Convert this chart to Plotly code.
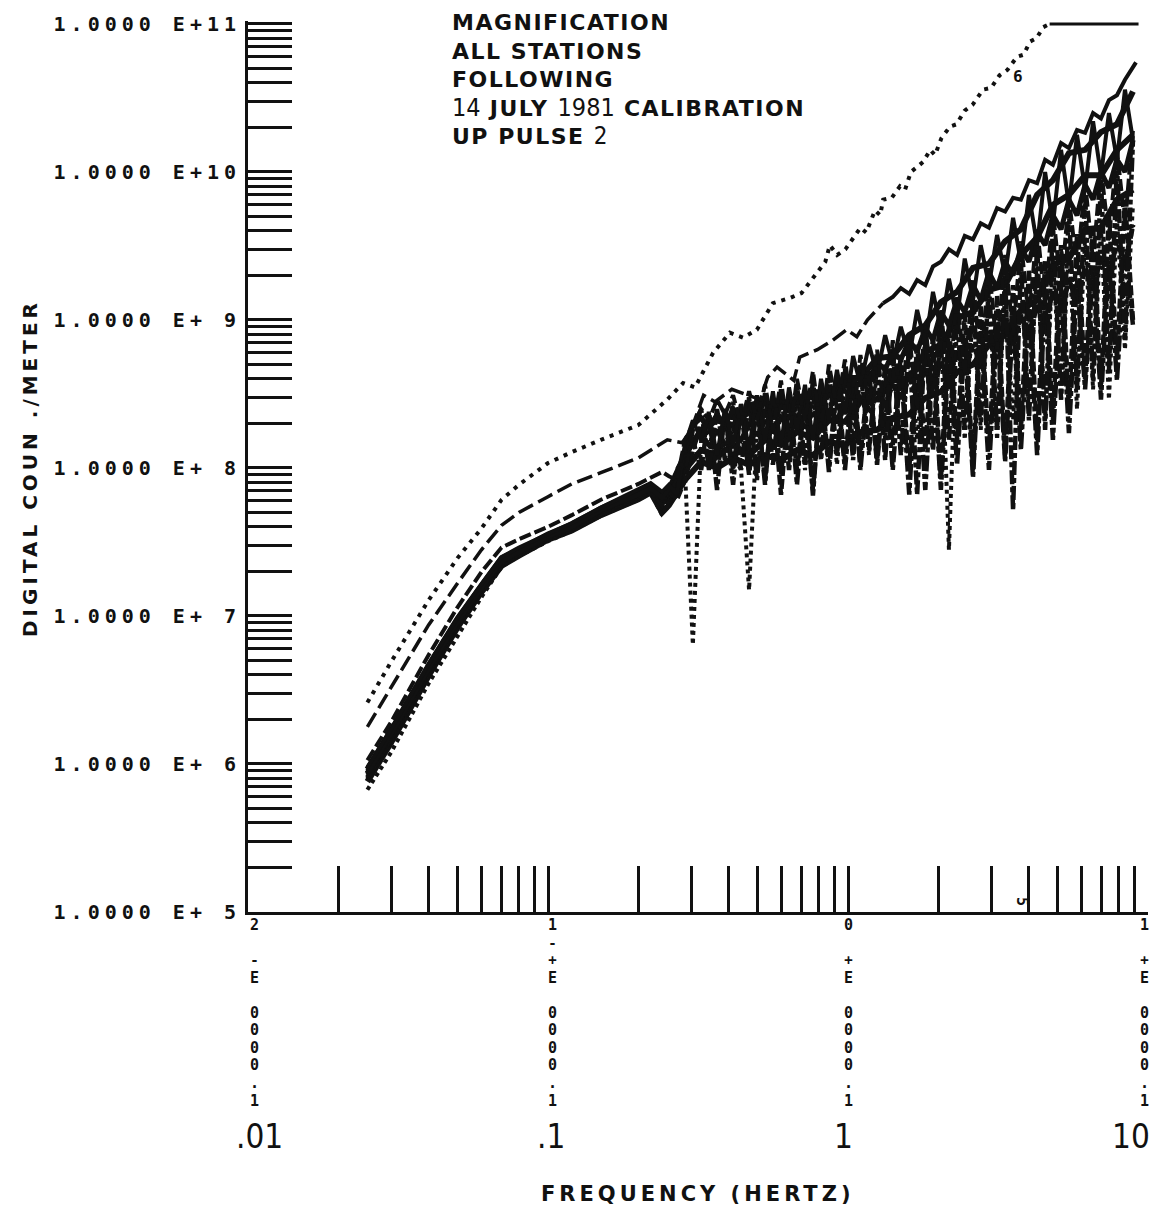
import math
import plotly.graph_objects as go

# ---------------------------------------------------------------------------
# Frequency grids (Hz)
# ---------------------------------------------------------------------------
freq_lo = [0.025, 0.03, 0.04, 0.05, 0.06, 0.07, 0.08, 0.10, 0.12, 0.15, 0.20, 0.22, 0.24]
freq_hi = [0.253, 0.269, 0.286, 0.304, 0.324, 0.344, 0.366, 0.389, 0.414, 0.440,
           0.468, 0.497, 0.529, 0.562, 0.598, 0.636, 0.676, 0.719, 0.764, 0.813,
           0.864, 0.919, 0.977, 1.04, 1.10, 1.175, 1.25, 1.33, 1.41, 1.50,
           1.60, 1.70, 1.81, 1.92, 2.04, 2.17, 2.31, 2.45, 2.61, 2.77,
           2.95, 3.14, 3.34, 3.55, 3.77, 4.01, 4.27, 4.54, 4.82, 5.13,
           5.45, 5.80, 6.17, 6.56, 6.97, 7.41, 7.88, 8.38, 8.91]
freq_mid = freq_hi[::2]   # coarser sampling for the smoother stations

# ---------------------------------------------------------------------------
# Magnification (digital counts / meter)
# ---------------------------------------------------------------------------
# Station 6 (dotted, highest) and its saturated tail at 1e11
st6_freq = [0.025, 0.03, 0.04, 0.05, 0.06, 0.07, 0.08, 0.10, 0.12, 0.15,
            0.20, 0.25, 0.282, 0.309, 0.355, 0.404, 0.447, 0.497, 0.562, 0.641,
            0.70, 0.80, 0.84, 0.87, 0.92, 0.98, 1.03, 1.10, 1.15, 1.23,
            1.28, 1.31, 1.40, 1.49, 1.55, 1.62, 1.70, 1.78, 1.88, 1.95,
            2.05, 2.19, 2.30, 2.45, 2.60, 2.82, 3.00, 3.20, 3.40, 3.66,
            3.85, 4.04, 4.25, 4.47, 4.70]
st6_mag = [2.6e6, 4.9e6, 1.28e7, 2.47e7, 3.9e7, 6.1e7, 7.7e7, 1.08e8, 1.28e8, 1.55e8,
           1.95e8, 2.9e8, 3.75e8, 3.5e8, 6.0e8, 8.2e8, 7.6e8, 8.6e8, 1.30e9, 1.41e9,
           1.52e9, 2.2e9, 2.47e9, 3.2e9, 2.75e9, 3.0e9, 3.5e9, 4.2e9, 3.9e9, 5.5e9,
           5.1e9, 6.5e9, 6.7e9, 8.0e9, 7.6e9, 1.0e10, 1.08e10, 1.17e10, 1.41e10, 1.30e10,
           1.70e10, 2.03e10, 2.1e10, 2.6e10, 2.84e10, 3.6e10, 3.7e10, 4.5e10, 4.9e10, 6.0e10,
           6.2e10, 7.6e10, 8.0e10, 9.5e10, 1.0e11]
st6_sat_freq = [4.70, 9.3]
st6_sat_mag = [1.0e11, 1.0e11]

# Long-dashed station (second highest): dashed part, then its dense solid part
ld_freq = [0.025, 0.03, 0.04, 0.05, 0.06, 0.07, 0.08, 0.10, 0.12, 0.15,
           0.20, 0.25, 0.28, 0.30, 0.33, 0.36, 0.41, 0.51, 0.54, 0.58,
           0.66, 0.69, 0.79, 0.89, 0.99, 1.07, 1.16, 1.31]
ld_mag = [1.78e6, 3.3e6, 8.7e6, 1.67e7, 2.8e7, 4.1e7, 5.0e7, 6.4e7, 7.8e7, 9.3e7,
          1.17e8, 1.55e8, 1.48e8, 1.81e8, 3.1e8, 2.8e8, 3.4e8, 2.9e8, 4.1e8, 4.8e8,
          3.9e8, 5.6e8, 6.3e8, 7.3e8, 8.6e8, 7.7e8, 1.0e9, 1.3e9]
ld_hi_freq = [1.31, 1.41, 1.50, 1.60, 1.70, 1.81, 1.92, 2.04, 2.17, 2.31,
              2.45, 2.61, 2.77, 2.95, 3.14, 3.34, 3.55, 3.77, 4.01, 4.27,
              4.54, 4.82, 5.13, 5.45, 5.80, 6.17, 6.56, 6.97, 7.41, 7.88,
              8.38, 8.77, 9.12]
ld_hi_mag = [1.3e9, 1.43e9, 1.64e9, 1.5e9, 1.86e9, 1.72e9, 2.3e9, 2.47e9, 3.0e9, 2.75e9,
             3.7e9, 3.5e9, 4.5e9, 4.2e9, 5.7e9, 5.4e9, 6.7e9, 6.5e9, 8.8e9, 8.4e9,
             1.21e10, 1.12e10, 1.57e10, 1.45e10, 1.92e10, 1.84e10, 2.5e10, 2.3e10, 3.06e10, 3.3e10,
             4.2e10, 4.9e10, 5.5e10]

# Dashed station riding just above the main bundle
dsh_lo = [1.06e6, 1.92e6, 5.45e6, 1.15e7, 1.98e7, 2.9e7, 3.3e7, 4.0e7, 4.8e7, 6.1e7, 7.8e7, 8.6e7, 9.4e7]
dsh_hi = [8.8e7, 8.3e7, 1.55e8, 1.95e8, 2.5e8, 2.1e8, 2.9e8, 2.3e8, 3.1e8, 1.95e8,
          3.3e8, 2.1e8, 3.65e8, 1.81e8, 3.9e8, 1.55e8, 4.0e8, 2.1e8, 4.5e8, 1.81e8,
          5.0e8, 2.5e8, 5.4e8, 2.1e8, 5.8e8, 2.7e8, 6.3e8, 2.1e8, 7.3e8, 2.9e8,
          7.9e8, 2.5e8, 9.2e8, 3.1e8, 1.17e9, 3.4e8, 1.47e9, 4.3e8, 1.86e9, 5.0e8,
          2.25e9, 6.3e8, 2.75e9, 7.9e8, 3.4e9, 1.0e9, 4.2e9, 1.26e9, 5.4e9, 1.6e9,
          6.7e9, 2.2e9, 8.5e9, 2.5e9, 1.07e10, 3.5e9, 1.41e10, 4.4e9, 1.92e10]

# Main bundle of stations
sta_a_lo = [9.5e5, 1.72e6, 4.74e6, 9.8e6, 1.64e7, 2.5e7, 2.9e7, 3.6e7, 4.25e7, 5.4e7, 7.1e7, 7.9e7, 6.9e7]
sta_a_hi = [7.7e7, 6.6e7, 1.43e8, 2.1e8, 1.55e8, 2.3e8, 1.22e8, 2.5e8, 1.43e8, 2.7e8,
            1.32e8, 3.1e8, 1.55e8, 3.3e8, 1.43e8, 3.5e8, 1.81e8, 3.65e8, 1.55e8, 4.0e8,
            2.1e8, 4.6e8, 2.3e8, 5.7e8, 3.65e8, 6.8e8, 4.3e8, 7.9e8, 5.0e8, 9.0e8,
            5.6e8, 1.17e9, 6.8e8, 1.55e9, 8.6e8, 1.9e9, 1.03e9, 2.6e9, 1.36e9, 3.2e9,
            1.72e9, 3.75e9, 2.0e9, 4.9e9, 2.47e9, 7.0e9, 3.2e9, 1.0e10, 4.4e9, 1.41e10,
            6.0e9, 1.78e10, 7.6e9, 2.2e10, 9.5e9, 2.5e10, 1.21e10, 3.6e10, 1.64e10]

sta_b_lo = [9.0e5, 1.62e6, 4.5e6, 9.4e6, 1.6e7, 2.4e7, 2.75e7, 3.5e7, 4.05e7, 5.1e7, 6.7e7, 7.45e7, 6.1e7]
sta_b_hi = [6.6e7, 8.3e7, 9.7e7, 1.81e8, 2.5e8, 9.7e7, 2.5e8, 1.13e8, 2.8e8, 9.7e7,
            3.0e8, 8.3e7, 3.2e8, 1.05e8, 3.4e8, 9.7e7, 3.65e8, 1.05e8, 3.9e8, 1.13e8,
            4.5e8, 1.22e8, 4.75e8, 1.13e8, 5.0e8, 1.32e8, 5.6e8, 1.13e8, 6.3e8, 1.22e8,
            6.8e8, 6.6e7, 7.9e8, 1.32e8, 1.0e9, 1.55e8, 1.26e9, 1.81e8, 1.47e9, 2.1e8,
            1.72e9, 1.81e8, 2.0e9, 5.2e7, 2.45e9, 2.1e8, 3.2e9, 1.81e8, 4.4e9, 2.9e8,
            5.5e9, 3.4e8, 7.0e9, 3.9e8, 8.8e9, 4.6e8, 1.12e10, 7.3e8, 1.64e10]

sta_c_lo = [8.4e5, 1.55e6, 4.3e6, 9.0e6, 1.52e7, 2.3e7, 2.67e7, 3.37e7, 3.9e7, 5.0e7, 6.4e7, 7.1e7, 5.6e7]
sta_c_hi = [7.1e7, 6.1e7, 8.3e7, 1.32e8, 1.95e8, 2.1e8, 9.0e7, 2.3e8, 9.7e7, 2.5e8,
            9.0e7, 2.7e8, 8.3e7, 2.9e8, 6.6e7, 3.0e8, 9.7e7, 3.1e8, 7.1e7, 3.4e8,
            1.05e8, 3.65e8, 1.13e8, 4.0e8, 1.22e8, 4.5e8, 1.05e8, 5.0e8, 1.43e8, 5.8e8,
            9.7e7, 6.8e8, 1.32e8, 7.9e8, 8.3e7, 9.2e8, 1.55e8, 1.08e9, 9.7e7, 1.26e9,
            1.32e8, 1.47e9, 1.22e8, 1.72e9, 1.81e8, 2.2e9, 1.55e8, 2.5e9, 2.1e8, 3.2e9,
            2.5e8, 3.8e9, 3.9e8, 4.4e9, 3.4e8, 5.1e9, 5.4e8, 6.5e9, 1.0e9]

sta_d_lo = [6.7e5, 1.2e6, 3.5e6, 7.4e6, 1.34e7, 2.15e7, 2.54e7, 3.2e7, 3.75e7, 4.75e7, 6.1e7, 6.8e7, 4.8e7]
sta_d_hi = [6.1e7, 7.1e7, 9.7e7, 6.4e6, 1.55e8, 1.81e8, 1.13e8, 2.1e8, 1.22e8, 9.7e7,
            1.5e7, 1.81e8, 2.5e8, 1.22e8, 2.7e8, 1.13e8, 2.9e8, 9.7e7, 3.1e8, 1.32e8,
            3.65e8, 1.05e8, 4.0e8, 1.55e8, 4.5e8, 1.22e8, 4.75e8, 1.55e8, 5.4e8, 1.43e8,
            6.3e8, 1.55e8, 7.3e8, 1.32e8, 8.6e8, 2.8e7, 1.03e9, 1.55e8, 1.17e9, 1.81e8,
            1.36e9, 1.55e8, 1.6e9, 2.1e8, 1.86e9, 2.5e8, 2.25e9, 2.1e8, 2.6e9, 2.9e8,
            3.1e9, 2.5e8, 3.6e9, 3.4e8, 4.2e9, 2.9e8, 4.85e9, 6.3e8, 6.0e9]

sta_e_lo = [7.9e5, 1.45e6, 4.06e6, 8.6e6, 1.48e7, 2.2e7, 2.6e7, 3.3e7, 3.8e7, 4.8e7, 6.2e7, 6.9e7, 5.2e7]
sta_e_hi = [5.6e7, 9.7e7, 1.22e8, 1.55e8, 9.7e7, 2.4e8, 7.1e7, 2.5e8, 7.7e7, 2.7e8,
            9.7e7, 2.9e8, 7.7e7, 3.0e8, 9.0e7, 3.1e8, 7.7e7, 3.3e8, 6.5e7, 3.5e8,
            9.4e7, 3.8e8, 9.7e7, 4.0e8, 9.7e7, 4.3e8, 1.13e8, 4.6e8, 9.7e7, 5.0e8,
            6.6e7, 5.4e8, 7.1e7, 5.8e8, 7.1e7, 6.5e8, 1.05e8, 7.3e8, 8.6e7, 8.4e8,
            9.7e7, 9.2e8, 1.1e8, 1.03e9, 1.32e8, 1.17e9, 1.22e8, 1.36e9, 1.55e8, 1.6e9,
            1.72e8, 1.86e9, 3.4e8, 2.2e9, 2.9e8, 2.5e9, 3.9e8, 3.0e9, 9.2e8]

sta_g_lo = [8.7e5, 1.6e6, 4.4e6, 9.2e6, 1.55e7, 2.35e7, 2.7e7, 3.45e7, 4.0e7, 5.2e7, 6.6e7, 7.3e7, 6.3e7]
sta_g_hi = [7.3e7, 6.9e7, 1.32e8, 1.95e8, 2.18e8, 1.86e8, 2.3e8, 1.95e8, 2.5e8, 2.1e8,
            2.7e8, 2.18e8, 2.9e8, 2.4e8, 2.97e8, 2.54e8, 3.1e8, 2.7e8, 3.27e8, 2.9e8,
            3.47e8, 3.06e8, 3.8e8, 3.65e8, 4.45e8, 3.9e8, 5.2e8, 4.6e8, 6.1e8, 5.4e8,
            7.3e8, 6.1e8, 8.8e8, 7.3e8, 1.13e9, 9.2e8, 1.36e9, 1.13e9, 1.72e9, 1.36e9,
            2.1e9, 1.64e9, 2.47e9, 2.0e9, 3.06e9, 2.47e9, 3.9e9, 3.2e9, 5.1e9, 4.1e9,
            6.5e9, 5.1e9, 8.2e9, 6.5e9, 1.0e10, 7.8e9, 1.21e10, 1.0e10, 1.64e10]

sta_h_lo = [8.1e5, 1.5e6, 4.2e6, 8.8e6, 1.5e7, 2.25e7, 2.62e7, 3.35e7, 3.85e7, 4.9e7, 6.3e7, 7.0e7, 5.4e7]
sta_h_hi = [6.6e7, 7.7e7, 1.13e8, 1.55e8, 1.67e8, 1.43e8, 1.81e8, 1.43e8, 1.86e8, 1.55e8,
            1.95e8, 1.6e8, 2.1e8, 1.67e8, 2.18e8, 1.81e8, 2.3e8, 1.86e8, 2.4e8, 1.95e8,
            2.54e8, 2.1e8, 2.8e8, 2.3e8, 2.97e8, 2.5e8, 3.27e8, 2.7e8, 3.65e8, 2.97e8,
            4.05e8, 3.27e8, 4.6e8, 3.65e8, 5.2e8, 4.05e8, 6.1e8, 4.6e8, 6.8e8, 5.2e8,
            7.9e8, 6.1e8, 9.2e8, 6.8e8, 1.08e9, 7.9e8, 1.26e9, 9.2e8, 1.55e9, 1.13e9,
            1.86e9, 1.36e9, 2.25e9, 1.6e9, 2.75e9, 1.86e9, 3.5e9, 2.35e9, 4.4e9]

# Smoother stations inside the band (sampled on freq_mid)
sta_j_lo = [9.2e5, 1.68e6, 4.6e6, 9.6e6, 1.6e7, 2.45e7, 2.8e7, 3.55e7, 4.15e7, 5.3e7, 6.9e7, 7.6e7, 6.6e7]
sta_j_mid = [7.1e7, 1.22e8, 1.81e8, 2.1e8, 1.95e8, 2.4e8, 2.3e8, 2.8e8, 2.7e8, 3.27e8,
             3.2e8, 4.05e8, 4.05e8, 5.5e8, 5.7e8, 7.9e8, 9.2e8, 1.32e9, 1.55e9, 2.25e9,
             2.4e9, 3.4e9, 4.1e9, 7.0e9, 8.8e9, 1.34e10, 1.41e10, 1.86e10, 2.1e10, 3.5e10]

sta_k_lo = [8.6e5, 1.58e6, 4.35e6, 9.1e6, 1.54e7, 2.32e7, 2.7e7, 3.4e7, 3.95e7, 5.05e7, 6.5e7, 7.2e7, 5.9e7]
sta_k_mid = [6.1e7, 9.7e7, 1.32e8, 1.22e8, 1.43e8, 1.22e8, 1.55e8, 1.43e8, 1.75e8, 1.6e8,
             2.1e8, 2.05e8, 2.8e8, 2.9e8, 3.9e8, 4.05e8, 6.1e8, 6.8e8, 1.03e9, 1.13e9,
             1.6e9, 1.72e9, 2.75e9, 3.6e9, 6.0e9, 7.0e9, 9.5e9, 9.5e9, 1.41e10, 1.78e10]

sta_l_lo = [7.6e5, 1.4e6, 3.95e6, 8.4e6, 1.45e7, 2.18e7, 2.56e7, 3.28e7, 3.78e7, 4.8e7, 6.15e7, 6.85e7, 5.0e7]
sta_l_mid = [5.6e7, 8.3e7, 1.1e8, 1.0e8, 1.17e8, 1.05e8, 1.22e8, 1.13e8, 1.32e8, 1.22e8,
             1.5e8, 1.43e8, 1.75e8, 1.81e8, 2.18e8, 2.3e8, 2.97e8, 3.27e8, 4.45e8, 5.0e8,
             6.8e8, 7.9e8, 1.17e9, 1.36e9, 2.35e9, 2.6e9, 4.1e9, 4.2e9, 6.5e9, 7.6e9]

# Axis annotation text
x_decade_text = [".01", ".1", "1", "10"]
x_exponent_glyphs = [["2", "", "-", "E"], ["1", "-", "+", "E"], ["0", "", "+", "E"], ["1", "", "+", "E"]]
x_mantissa_glyphs = ["", "0", "0", "0", "0", ".", "1"]
title_lines = ["MAGNIFICATION", "ALL STATIONS", "FOLLOWING", "14 JULY 1981 CALIBRATION", "UP PULSE 2"]

# ---------------------------------------------------------------------------
# Page geometry (pixels)
# ---------------------------------------------------------------------------
PAGE_W, PAGE_H = 1150, 1209
LEFT, RIGHT, TOP, BOTTOM = 248, 1148, 21, 912
PW, PH = RIGHT - LEFT, BOTTOM - TOP

MONO = "DejaVu Sans Mono"
SANS = "DejaVu Sans"
NARROW = "Liberation Sans Narrow, DejaVu Sans Condensed, Liberation Sans"
INK = "#111111"


def spaced(text, px):
    return f"<span style='letter-spacing:{px}px'>{text}</span>"


def sized(text, px, family=None, weight=None):
    style = f"font-size:{px}px"
    if family:
        style += f";font-family:{family}"
    if weight:
        style += f";font-weight:{weight}"
    return f"<span style='{style}'>{text}</span>"


def px_x(p):
    return (p - LEFT) / PW


def px_y(p):
    return (BOTTOM - p) / PH


fig = go.Figure()


def add_line(xs, ys, width, dash):
    fig.add_trace(go.Scatter(x=xs, y=ys, mode="lines",
                             line=dict(color=INK, width=width, dash=dash),
                             hoverinfo="skip", showlegend=False))


# bundle stations (drawn first, upper curves on top)
add_line(freq_lo + freq_mid, sta_l_lo + sta_l_mid, 6, "solid")
add_line(freq_lo + freq_mid, sta_k_lo + sta_k_mid, 6, "solid")
add_line(freq_lo + freq_mid, sta_j_lo + sta_j_mid, 6, "solid")
add_line(freq_lo + freq_hi, sta_e_lo + sta_e_hi, 4.5, "16px,3px,5px,3px")
add_line(freq_lo + freq_hi, sta_h_lo + sta_h_hi, 5, "10px,2px")
add_line(freq_lo + freq_hi, sta_d_lo + sta_d_hi, 4, "4px,4px")
add_line(freq_lo + freq_hi, sta_c_lo + sta_c_hi, 4.5, "10px,3px")
add_line(freq_lo + freq_hi, sta_b_lo + sta_b_hi, 4.5, "14px,3px,5px,3px")
add_line(freq_lo + freq_hi, sta_g_lo + sta_g_hi, 5, "solid")
add_line(freq_lo + freq_hi, sta_a_lo + sta_a_hi, 4, "solid")
add_line(freq_lo + freq_hi, dsh_lo + dsh_hi, 4, "12px,4px")
add_line(ld_freq, ld_mag, 3.5, "16px,6px")
add_line(ld_hi_freq, ld_hi_mag, 4, "solid")
add_line(st6_freq, st6_mag, 4, "4px,6px")
add_line(st6_sat_freq, st6_sat_mag, 3, "solid")

# tick positions: every integer multiple inside each decade
x_tickvals = [k * 10.0 ** n for n in (-2, -1, 0) for k in range(1, 10)] + [10.0]
y_tickvals = [k * 10.0 ** n for n in range(5, 11) for k in range(1, 10)] + [1e11]
y_ticktext = []
for v in y_tickvals:
    e = math.log10(v)
    if abs(e - round(e)) < 1e-9:
        y_ticktext.append(spaced(f"1.0000 E+{int(round(e)):2d}", 5))
    else:
        y_ticktext.append("")

ann = []


def label(text, xp, yp, size, family, weight="normal", xanchor="center",
          yanchor="middle", angle=0, align="center"):
    ann.append(dict(text=text, xref="paper", yref="paper", x=px_x(xp), y=px_y(yp),
                    xanchor=xanchor, yanchor=yanchor, showarrow=False, textangle=angle,
                    align=align,
                    font=dict(family=family, size=size, color=INK, weight=weight)))


# stacked exponent labels under the frequency axis (one glyph per line)
col_x = [254, 552, 848, 1144]
big_x = [259, 551, 843, 1131]
for cx, bx, glyphs, txt in zip(col_x, big_x, x_exponent_glyphs, x_decade_text):
    rows = []
    for g in glyphs + x_mantissa_glyphs:
        if g == "":
            rows.append("\u00a0")
        elif g in "-+":
            rows.append(sized(g, 14))
        else:
            rows.append(sized(g, 15))
    label("<br>".join(rows), cx, 914, 13.5, MONO, "bold", yanchor="top")
    label(txt, bx, 1136, 33, NARROW)

# axis titles
label(spaced("FREQUENCY (HERTZ)", 4), 698, 1194, 21, SANS, "bold")
label(spaced("DIGITAL COUN ./METER", 4), 30, 468, 20, SANS, "bold", angle=-90)

# header block
thin_font = "Liberation Sans Narrow, DejaVu Sans Condensed"
header = "<br>".join([
    spaced(title_lines[0], 1.5),
    spaced(title_lines[1], 1.5),
    spaced(title_lines[2], 1.5),
    sized("14", 25, thin_font, "normal") + spaced(" JULY ", 1.5)
    + sized("1981", 25, thin_font, "normal") + spaced(" CALIBRATION", 1.5),
    spaced("UP PULSE ", 1.5) + sized("2", 24, thin_font, "normal"),
])
label(header, 450, 8, 22, SANS, "bold", xanchor="left", yanchor="top", align="left")

# station numbers written by the plotter
label("6", 1018, 76, 16, MONO, "bold")
label("5", 1022, 901, 15, MONO, "bold", angle=90)

fig.update_layout(
    width=PAGE_W, height=PAGE_H,
    margin=dict(l=LEFT, r=PAGE_W - RIGHT, t=TOP, b=PAGE_H - BOTTOM, autoexpand=False),
    paper_bgcolor="white", plot_bgcolor="white",
    showlegend=False,
    annotations=ann,
    xaxis=dict(type="log", range=[-2, 1], showgrid=False, zeroline=False,
               showline=True, linecolor=INK, linewidth=3,
               ticks="inside", ticklen=46, tickwidth=2.5, tickcolor=INK,
               tickvals=x_tickvals, showticklabels=False),
    yaxis=dict(type="log", range=[5, 11.02], showgrid=False, zeroline=False,
               showline=True, linecolor=INK, linewidth=3,
               ticks="inside", ticklen=44, tickwidth=2.5, tickcolor=INK,
               tickvals=y_tickvals, ticktext=y_ticktext,
               tickfont=dict(family=MONO, size=20, color=INK, weight="bold")),
)

fig.write_html("out.html")
